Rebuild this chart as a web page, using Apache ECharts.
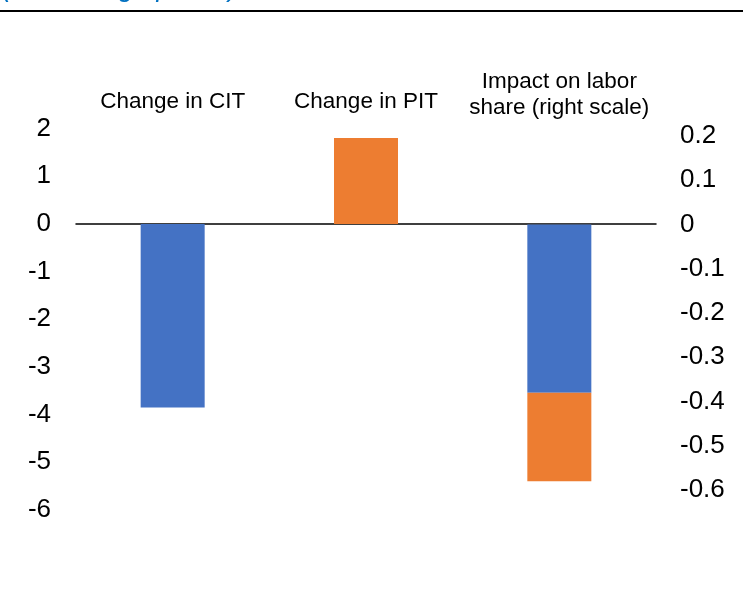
<!DOCTYPE html>
<html>
<head>
<meta charset="utf-8">
<script src="https://cdn.jsdelivr.net/npm/echarts@6/dist/echarts.min.js"></script>
<style>html,body{margin:0;padding:0;background:#fff}#c{width:743px;height:602px}</style>
</head>
<body>
<div id="c"></div>
<script>
// Data
var categories = ['Change in CIT', 'Change in PIT', 'Impact on labor\nshare (right scale)'];
var citLeft = [-3.85, '-', '-'];
var pitLeft = ['-', 1.80, '-'];
var impactCit = ['-', '-', -0.38];
var impactPit = ['-', '-', -0.20];
var subtitle = '(Percentage points)';

var FONT = '"Liberation Sans", Arial, sans-serif';
var BLUE = '#4472C4', ORANGE = '#ED7D31';

var chart = echarts.init(document.getElementById('c'), null, {renderer: 'canvas'});
chart.setOption({
  animation: false,
  backgroundColor: '#fff',
  graphic: [
    {type: 'text', left: 2, top: -25, style: {text: subtitle, fill: '#0070C0', font: 'italic 27px ' + FONT}},
    {type: 'rect', shape: {x: 0, y: 10, width: 743, height: 2}, style: {fill: '#000'}}
  ],
  grid: [
    {left: 76, right: 87, top: 128.5, height: 381.5},
    {left: 76, right: 87, top: 136, height: 354}
  ],
  xAxis: [
    {type: 'category', gridIndex: 0, data: categories, position: 'top',
     axisLine: {show: false, onZero: false}, axisTick: {show: false},
     axisLabel: {margin: 14, fontFamily: FONT, fontSize: 22.5, lineHeight: 26, color: '#000', interval: 0,
       formatter: function (v, i) { return i < 2 ? v : ''; }}},
    {type: 'category', gridIndex: 1, data: categories, position: 'top',
     axisLine: {show: false, onZero: false}, axisTick: {show: false},
     axisLabel: {margin: 15, fontFamily: FONT, fontSize: 22.5, lineHeight: 26, color: '#000', interval: 0,
       formatter: function (v, i) { return i === 2 ? v : ''; }}},
    {type: 'category', gridIndex: 0, data: categories, position: 'bottom',
     axisLine: {show: true, onZero: true, lineStyle: {color: '#000', width: 1.5}},
     axisTick: {show: false}, axisLabel: {show: false}}
  ],
  yAxis: [
    {type: 'value', gridIndex: 0, min: -6, max: 2, interval: 1, position: 'left',
     axisLine: {show: false}, axisTick: {show: false}, splitLine: {show: false},
     axisLabel: {margin: 25, fontFamily: FONT, fontSize: 26, color: '#000'}},
    {type: 'value', gridIndex: 1, min: -0.6, max: 0.2, interval: 0.1, position: 'right',
     axisLine: {show: false}, axisTick: {show: false}, splitLine: {show: false},
     axisLabel: {margin: 24, fontFamily: FONT, fontSize: 26, color: '#000',
       formatter: function (v) { return String(+v.toFixed(1)); }}}
  ],
  series: [
    {type: 'bar', name: 'CIT', xAxisIndex: 0, yAxisIndex: 0, stack: 'L', data: citLeft, barWidth: 64, itemStyle: {color: BLUE}},
    {type: 'bar', name: 'PIT', xAxisIndex: 0, yAxisIndex: 0, stack: 'L', data: pitLeft, barWidth: 64, itemStyle: {color: ORANGE}},
    {type: 'bar', name: 'Impact CIT', xAxisIndex: 1, yAxisIndex: 1, stack: 'R', data: impactCit, barWidth: 64, itemStyle: {color: BLUE}},
    {type: 'bar', name: 'Impact PIT', xAxisIndex: 1, yAxisIndex: 1, stack: 'R', data: impactPit, barWidth: 64, itemStyle: {color: ORANGE}}
  ]
});
</script>
</body>
</html>
